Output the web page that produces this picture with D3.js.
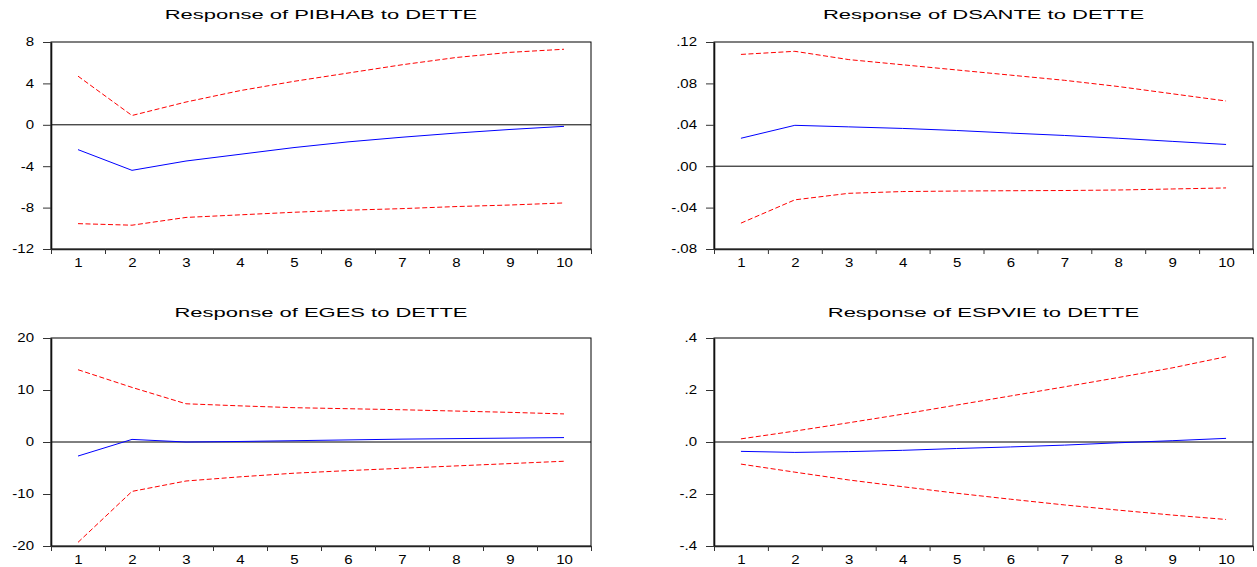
<!DOCTYPE html>
<html>
<head>
<meta charset="utf-8">
<script src="https://cdn.jsdelivr.net/npm/d3@7/dist/d3.min.js"></script>
<style>
  body { margin: 0; background: #fff; }
  svg { display: block; }
  text { font-family: "Liberation Sans", Arial, sans-serif; fill: #000; }
</style>
</head>
<body>
<script>
// Periodes (horizon de la reponse)
var periods = [1, 2, 3, 4, 5, 6, 7, 8, 9, 10];

var titles = [
  "Response of PIBHAB to DETTE",
  "Response of DSANTE to DETTE",
  "Response of EGES to DETTE",
  "Response of ESPVIE to DETTE"
];

// PIBHAB
var pibhabResp  = [-2.4, -4.4, -3.5, -2.85, -2.2, -1.65, -1.2, -0.8, -0.45, -0.15];
var pibhabUpper = [4.7, 0.9, 2.2, 3.3, 4.2, 5.0, 5.8, 6.5, 7.0, 7.3];
var pibhabLower = [-9.55, -9.7, -8.95, -8.7, -8.45, -8.25, -8.1, -7.9, -7.75, -7.55];
var pibhabTicks = [8, 4, 0, -4, -8, -12];
var pibhabLabels = ["8", "4", "0", "-4", "-8", "-12"];

// DSANTE
var dsanteResp  = [0.027, 0.0395, 0.038, 0.0365, 0.0345, 0.032, 0.0297, 0.027, 0.024, 0.021];
var dsanteUpper = [0.108, 0.111, 0.103, 0.098, 0.093, 0.088, 0.083, 0.077, 0.070, 0.063];
var dsanteLower = [-0.055, -0.0325, -0.0262, -0.0245, -0.024, -0.0237, -0.0235, -0.023, -0.022, -0.021];
var dsanteTicks = [0.12, 0.08, 0.04, 0, -0.04, -0.08];
var dsanteLabels = [".12", ".08", ".04", ".00", "-.04", "-.08"];

// EGES
var egesResp  = [-2.7, 0.5, 0.0, 0.1, 0.25, 0.4, 0.55, 0.65, 0.75, 0.85];
var egesUpper = [13.9, 10.5, 7.35, 6.95, 6.6, 6.4, 6.2, 5.95, 5.7, 5.4];
var egesLower = [-19.3, -9.5, -7.5, -6.7, -6.0, -5.5, -5.05, -4.6, -4.15, -3.7];
var egesTicks = [20, 10, 0, -10, -20];
var egesLabels = ["20", "10", "0", "-10", "-20"];

// ESPVIE
var espvieResp  = [-0.036, -0.04, -0.037, -0.032, -0.025, -0.019, -0.012, -0.003, 0.005, 0.014];
var espvieUpper = [0.012, 0.042, 0.074, 0.107, 0.142, 0.177, 0.212, 0.248, 0.285, 0.328];
var espvieLower = [-0.085, -0.116, -0.146, -0.172, -0.197, -0.22, -0.242, -0.262, -0.281, -0.298];
var espvieTicks = [0.4, 0.2, 0, -0.2, -0.4];
var espvieLabels = [".4", ".2", ".0", "-.2", "-.4"];

var width = 1257, height = 567;

var svg = d3.select("body").append("svg")
  .attr("width", width)
  .attr("height", height);

// etire le texte horizontalement (le graphique d'origine est elargi)
function stretch(sel, k) {
  sel.each(function() {
    var w = this.getComputedTextLength();
    d3.select(this).attr("textLength", w * k).attr("lengthAdjust", "spacingAndGlyphs");
  });
}

function drawPanel(box, title, resp, upper, lower, ticks, labels) {
  var w = box.right - box.left;
  var h = box.bottom - box.top;

  var g = svg.append("g").attr("transform", "translate(" + box.left + "," + box.top + ")");

  var x = d3.scaleLinear().domain([0.5, periods.length + 0.5]).range([0, w]);
  var y = d3.scaleLinear().domain([d3.min(ticks), d3.max(ticks)]).range([h, 0]);

  // cadre
  g.append("rect")
    .attr("x", 0).attr("y", 0)
    .attr("width", w).attr("height", h)
    .attr("fill", "none")
    .attr("stroke", "#000")
    .attr("stroke-width", 1);

  // ligne zero
  g.append("line")
    .attr("x1", 0).attr("x2", w)
    .attr("y1", y(0)).attr("y2", y(0))
    .attr("stroke", "#000")
    .attr("stroke-width", 1);

  var line = d3.line()
    .x(function(d, i) { return x(periods[i]); })
    .y(function(d) { return y(d); });

  g.append("path").datum(upper)
    .attr("d", line).attr("fill", "none")
    .attr("stroke", "#ff0000").attr("stroke-width", 1)
    .attr("stroke-dasharray", "5,2.5");

  g.append("path").datum(lower)
    .attr("d", line).attr("fill", "none")
    .attr("stroke", "#ff0000").attr("stroke-width", 1)
    .attr("stroke-dasharray", "5,2.5");

  g.append("path").datum(resp)
    .attr("d", line).attr("fill", "none")
    .attr("stroke", "#0000ff").attr("stroke-width", 1);

  // axe Y
  var yAxis = d3.axisLeft(y)
    .tickValues(ticks)
    .tickFormat(function(d, i) { return labels[i]; })
    .tickSize(8).tickPadding(9).tickSizeOuter(0);

  var ya = g.append("g").attr("class", "y axis").call(yAxis);
  ya.select(".domain").attr("stroke", "#111").attr("stroke-width", 1.6);
  ya.selectAll(".tick line").attr("stroke", "#333");
  ya.selectAll(".tick text")
    .attr("font-size", 12)
    .attr("font-family", "Liberation Sans, Arial, sans-serif")
    .attr("fill", "#000")
    .call(stretch, 1.25);

  // marques de l'axe X entre les periodes
  var xMarks = d3.axisBottom(x)
    .tickValues(periods.map(function(p) { return p - 0.5; }).concat([periods.length + 0.5]))
    .tickFormat("")
    .tickSize(5).tickSizeOuter(0);

  var xa = g.append("g").attr("class", "x axis")
    .attr("transform", "translate(0," + h + ")")
    .call(xMarks);
  xa.select(".domain").attr("stroke", "#222").attr("stroke-width", 1.6);
  xa.selectAll(".tick line").attr("stroke", "#333");

  // libelles de l'axe X centres sur chaque periode
  var xLabels = d3.axisBottom(x)
    .tickValues(periods)
    .tickFormat(d3.format("d"))
    .tickSize(0).tickPadding(9);

  var xl = g.append("g")
    .attr("transform", "translate(0," + h + ")")
    .call(xLabels);
  xl.select(".domain").remove();
  xl.selectAll(".tick text")
    .attr("font-size", 12)
    .attr("font-family", "Liberation Sans, Arial, sans-serif")
    .attr("fill", "#000")
    .call(stretch, 1.25);

  // titre
  g.append("text")
    .attr("x", w / 2)
    .attr("y", box.titleY - box.top)
    .attr("text-anchor", "middle")
    .attr("font-size", 13)
    .text(title)
    .call(stretch, 1.69);
}

var boxes = [
  {left: 51,  top: 42,  right: 591,  bottom: 249, titleY: 19},
  {left: 714, top: 42,  right: 1253, bottom: 249, titleY: 19},
  {left: 51,  top: 338, right: 591,  bottom: 546, titleY: 316.5},
  {left: 714, top: 338, right: 1253, bottom: 546, titleY: 316.5}
];

drawPanel(boxes[0], titles[0], pibhabResp, pibhabUpper, pibhabLower, pibhabTicks, pibhabLabels);
drawPanel(boxes[1], titles[1], dsanteResp, dsanteUpper, dsanteLower, dsanteTicks, dsanteLabels);
drawPanel(boxes[2], titles[2], egesResp, egesUpper, egesLower, egesTicks, egesLabels);
drawPanel(boxes[3], titles[3], espvieResp, espvieUpper, espvieLower, espvieTicks, espvieLabels);
</script>
</body>
</html>
